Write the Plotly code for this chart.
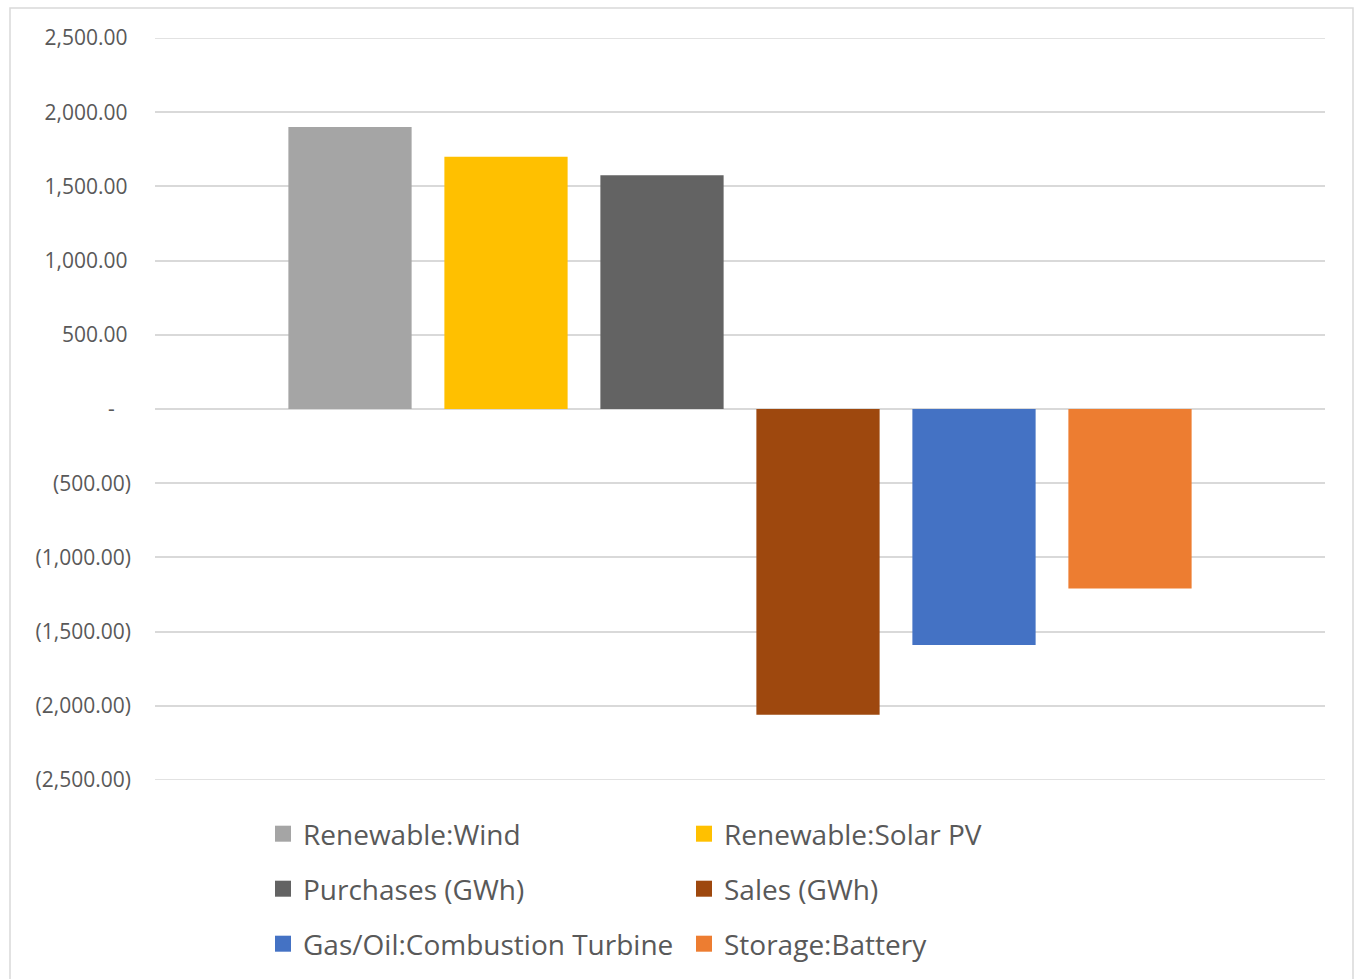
import plotly.graph_objects as go

series_names = ["Renewable:Wind", "Renewable:Solar PV", "Purchases (GWh)",
                "Sales (GWh)", "Gas/Oil:Combustion Turbine", "Storage:Battery"]
series_values = [1900, 1700, 1575, -2060, -1590, -1210]
series_colors = ["#A5A5A5", "#FFC000", "#636363", "#9E480E", "#4472C4", "#ED7D31"]
category = ["Total"]

tick_vals = [2500, 2000, 1500, 1000, 500, 0, -500, -1000, -1500, -2000, -2500]
tick_text = ["2,500.00\u2009", "2,000.00\u2009", "1,500.00\u2009", "1,000.00\u2009", "500.00\u2009",
             "-\u00a0\u00a0\u00a0", "(500.00)", "(1,000.00)", "(1,500.00)", "(2,000.00)", "(2,500.00)"]
y_min, y_max = -2500, 2500

W, H = 1355, 979
L, R, T, B = 155, 30, 38, 199
pw, ph = W - L - R, H - T - B

def px_x(x):
    return (x - L) / pw

def px_y(y):
    return (H - B - y) / ph

legend_rows = ["legend", "legend2", "legend3"]

fig = go.Figure()
for name, val, col in zip(series_names, series_values, series_colors):
    fig.add_trace(go.Bar(x=category, y=[val], name=name, marker=dict(color=col, line=dict(width=0)),
                         showlegend=False))
for i, (name, col) in enumerate(zip(series_names, series_colors)):
    fig.add_trace(go.Scatter(x=[None], y=[None], mode="markers", name=name,
                             marker=dict(symbol="square", size=18, color=col),
                             legend=legend_rows[i // 2], showlegend=True))

font_family = "Open Sans, Noto Sans, sans-serif"
legend_common = dict(orientation="h", xanchor="left", yanchor="middle",
                     font=dict(family=font_family, size=28, color="#595959"),
                     entrywidth=376, entrywidthmode="pixels",
                     bgcolor="rgba(0,0,0,0)", borderwidth=0)
row_centers = [834, 889, 944]
legend_x = px_x(263)

grid_color = "#D9D9D9"
edge_lines = [dict(type="line", xref="paper", yref="y", x0=0, x1=1, y0=v, y1=v,
                   line=dict(color=grid_color, width=1.5), layer="below")
              for v in (y_min, y_max)]

fig.update_layout(
    width=W, height=H,
    margin=dict(l=L, r=R, t=T, b=B, autoexpand=False),
    paper_bgcolor="white", plot_bgcolor="white",
    barmode="group", bargap=0.2, bargroupgap=0.21,
    font=dict(family=font_family, color="#595959"),
    xaxis=dict(showticklabels=False, showgrid=False, zeroline=False, showline=False,
               ticks="", range=[-0.5, 0.5]),
    yaxis=dict(range=[y_min, y_max], tickvals=tick_vals, ticktext=tick_text,
               showgrid=True, gridcolor=grid_color, gridwidth=1.5,
               zeroline=False, showline=False, ticks="",
               tickfont=dict(family=font_family, size=21, color="#595959"),
               ticklabelstandoff=23),
    legend=dict(x=legend_x, y=px_y(row_centers[0]), **legend_common),
    legend2=dict(x=legend_x, y=px_y(row_centers[1]), **legend_common),
    legend3=dict(x=legend_x, y=px_y(row_centers[2]), **legend_common),
    shapes=[dict(type="rect", xref="paper", yref="paper",
                 x0=px_x(10), x1=px_x(1353), y0=px_y(990), y1=px_y(8),
                 line=dict(color=grid_color, width=1.5), fillcolor="rgba(0,0,0,0)", layer="below")]
           + edge_lines,
)

fig.write_html("out.html")
